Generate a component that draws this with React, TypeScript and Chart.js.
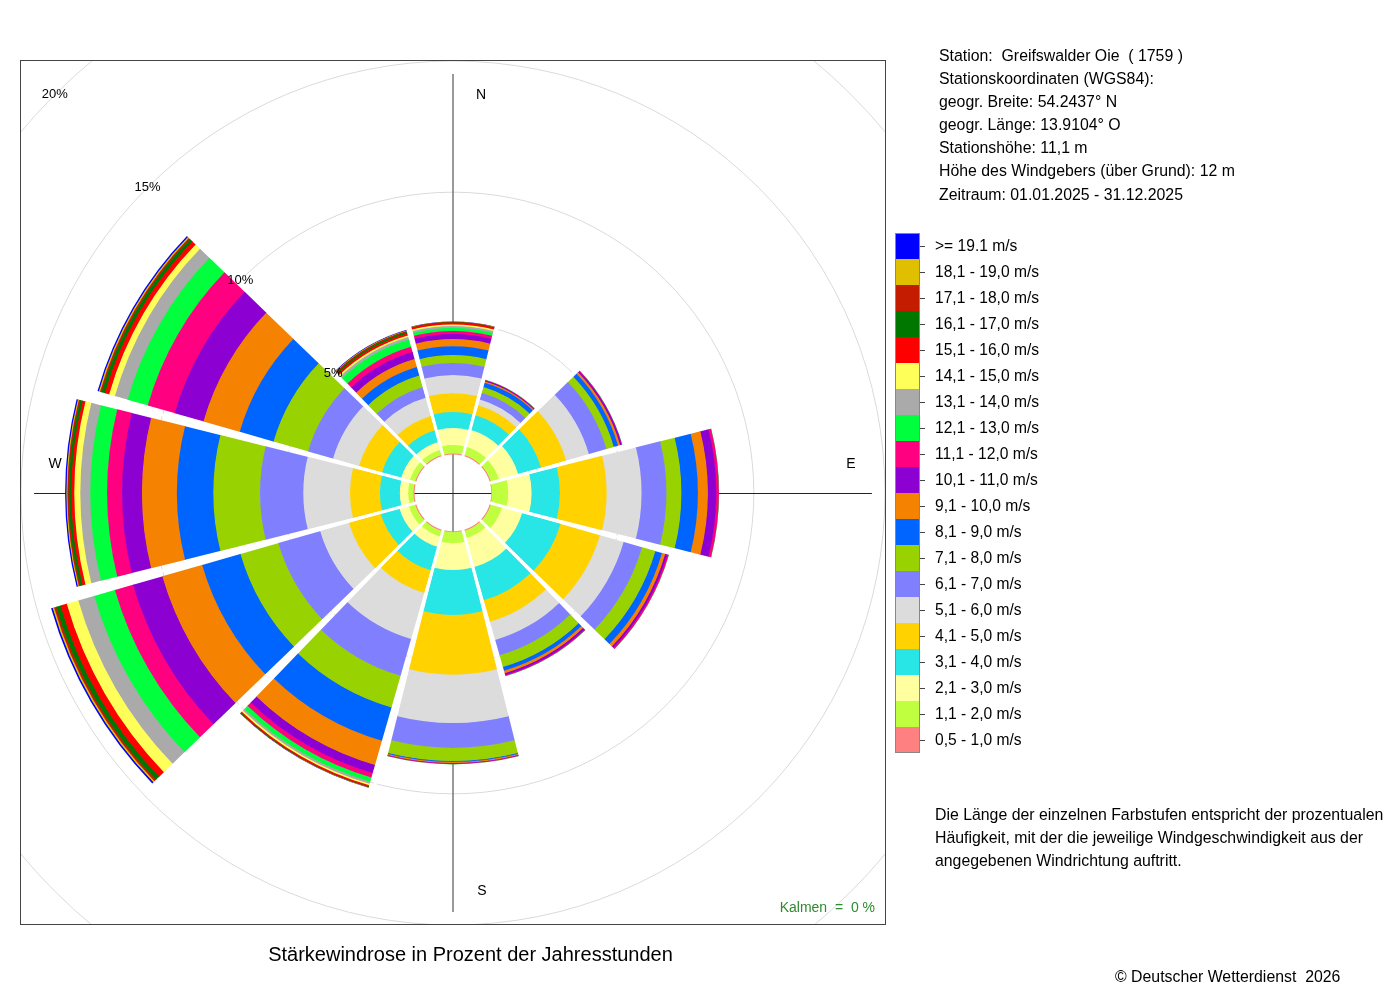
import React, { useEffect, useRef } from 'react';
import { Chart, registerables, PolarAreaController } from 'chart.js';

Chart.register(...registerables);

// 12 direction sectors (30° each), clockwise from north
const directions = ['N', '30°', '60°', 'O', '120°', '150°', 'S', '210°', '240°', 'W', '300°', '330°'];

// speed classes, from lowest to highest
const speedClasses = [
  '0,5 - 1,0 m/s', '1,1 - 2,0 m/s', '2,1 - 3,0 m/s', '3,1 - 4,0 m/s', '4,1 - 5,0 m/s',
  '5,1 - 6,0 m/s', '6,1 - 7,0 m/s', '7,1 - 8,0 m/s', '8,1 - 9,0 m/s', '9,1 - 10,0 m/s',
  '10,1 - 11,0 m/s', '11,1 - 12,0 m/s', '12,1 - 13,0 m/s', '13,1 - 14,0 m/s', '14,1 - 15,0 m/s',
  '15,1 - 16,0 m/s', '16,1 - 17,0 m/s', '17,1 - 18,0 m/s', '18,1 - 19,0 m/s', '>= 19.1 m/s',
];

const classColors = [
  '#ff8080', '#c0ff40', '#ffffa0', '#28e6e6', '#ffd200',
  '#dcdcdc', '#8080ff', '#98d200', '#0064ff', '#f58200',
  '#8c00d2', '#ff0080', '#00ff3c', '#aaaaaa', '#ffff5a',
  '#ff0000', '#007800', '#c41c00', '#e0be00', '#0000ff',
];

// percentage of annual hours per direction (N, 30°, 60°, O, 120°, 150°, S, 210°, 240°, W, 300°, 330°)
const speed05_10 = [0.04, 0.04, 0.04, 0.02, 0.04, 0.04, 0.03, 0.04, 0.04, 0.04, 0.04, 0.04];
const speed11_20 = [0.32, 0.33, 0.32, 0.62, 0.44, 0.29, 0.42, 0.23, 0.25, 0.20, 0.21, 0.21];
const speed21_30 = [0.65, 0.66, 0.76, 0.89, 0.80, 1.14, 1.02, 0.40, 0.37, 0.32, 0.34, 0.31];
const speed31_40 = [0.61, 0.59, 0.91, 1.08, 1.52, 1.32, 1.71, 0.93, 0.74, 0.76, 0.76, 0.46];
const speed41_50 = [0.72, 0.39, 0.99, 1.78, 1.56, 0.85, 2.28, 0.90, 1.26, 1.14, 0.91, 0.57];
const speed51_60 = [0.69, 0.23, 0.90, 1.33, 0.94, 0.72, 1.84, 1.82, 1.14, 1.78, 1.03, 0.72];
const speed61_70 = [0.46, 0.27, 0.70, 0.95, 0.73, 0.61, 0.95, 1.46, 1.66, 1.65, 0.99, 0.42];
const speed71_80 = [0.30, 0.23, 0.29, 0.57, 0.53, 0.46, 0.50, 1.26, 1.50, 1.78, 1.37, 0.46];
const speed81_90 = [0.34, 0.17, 0.17, 0.63, 0.26, 0.15, 0.04, 1.32, 1.52, 1.39, 1.34, 0.34];
const speed91_100 = [0.27, 0.05, 0.08, 0.38, 0.13, 0.10, 0.04, 0.96, 1.58, 1.33, 1.44, 0.32];
const speed101_110 = [0.19, 0.03, 0.06, 0.32, 0.08, 0.07, 0.02, 0.32, 1.16, 0.76, 1.14, 0.27];
const speed111_120 = [0.12, 0.02, 0.02, 0.10, 0.06, 0.04, 0.02, 0.17, 0.72, 0.57, 1.07, 0.21];
const speed121_130 = [0.11, 0.01, 0.01, 0.01, 0.01, 0.01, 0.01, 0.17, 0.82, 0.64, 0.80, 0.29];
const speed131_140 = [0.08, 0, 0, 0, 0, 0, 0, 0.08, 0.63, 0.38, 0.50, 0.10];
const speed141_150 = [0.06, 0, 0, 0, 0, 0, 0, 0.06, 0.46, 0.23, 0.23, 0.06];
const speed151_160 = [0.07, 0, 0, 0, 0, 0, 0, 0.05, 0.25, 0.11, 0.17, 0.08];
const speed161_170 = [0.01, 0, 0, 0, 0, 0, 0, 0.02, 0.17, 0.10, 0.13, 0.06];
const speed171_180 = [0.01, 0, 0, 0, 0, 0, 0, 0.01, 0.08, 0.05, 0.06, 0.04];
const speed181_190 = [0.01, 0, 0, 0, 0, 0, 0, 0.01, 0.06, 0.04, 0.05, 0.02];
const speed191plus = [0.01, 0, 0, 0, 0, 0, 0, 0.01, 0.06, 0.05, 0.05, 0.02];

const classValues = [
  speed05_10, speed11_20, speed21_30, speed31_40, speed41_50, speed51_60, speed61_70,
  speed71_80, speed81_90, speed91_100, speed101_110, speed111_120, speed121_130,
  speed131_140, speed141_150, speed151_160, speed161_170, speed171_180, speed181_190, speed191plus,
];

const gridPercents = [5, 10, 15, 20];
const calmPercent = 0;

const infoLines = [
  'Station:  Greifswalder Oie  ( 1759 )',
  'Stationskoordinaten (WGS84):',
  'geogr. Breite: 54.2437° N',
  'geogr. Länge: 13.9104° O',
  'Stationshöhe: 11,1 m',
  'Höhe des Windgebers (über Grund): 12 m',
  'Zeitraum: 01.01.2025 - 31.12.2025',
];

const noteLines = [
  'Die Länge der einzelnen Farbstufen entspricht der prozentualen',
  'Häufigkeit, mit der die jeweilige Windgeschwindigkeit aus der',
  'angegebenen Windrichtung auftritt.',
];

const chartTitle = 'Stärkewindrose in Prozent der Jahresstunden';
const copyright = '© Deutscher Wetterdienst  2026';

const FONT = '"Liberation Sans", Arial, Helvetica, sans-serif';
const SECTOR_GAP_DEG = 2;
const SECTOR_GAP_PX = 3;

// Polar area controller whose arcs are stacked rings (inner radius = base value)
class StackedPolarController extends (PolarAreaController as any) {
  static id = 'stackedPolar';
  updateElement(element: any, index: number, properties: any, mode: any) {
    if (properties && typeof properties.startAngle === 'number') {
      const ds: any = (this as any).getDataset();
      const scale: any = (this as any)._cachedMeta.rScale;
      const base = ds.base ? ds.base[index] : 0;
      const inner = scale.getDistanceFromCenterForValue(base);
      properties.innerRadius = Math.max(0, inner - (ds.overlap || 0));
      const half = ((ds.gapAngle || 0) * Math.PI) / 360;
      properties.startAngle += half;
      properties.endAngle -= half;
    }
    super.updateElement(element, index, properties, mode);
  }
}
Chart.register(StackedPolarController as any);

const totals = directions.map((_, i) => classValues.reduce((acc, arr) => acc + arr[i], 0));

const decorPlugin = {
  id: 'roseDecor',
  beforeDatasetsDraw(chart: any) {
    const s = chart.scales.r;
    const { ctx, chartArea: a } = chart;
    ctx.save();
    ctx.beginPath();
    ctx.rect(a.left, a.top - 1, a.right - a.left, a.bottom - a.top);
    ctx.clip();
    ctx.strokeStyle = '#dadada';
    ctx.lineWidth = 1;
    gridPercents.forEach((p) => {
      ctx.beginPath();
      ctx.arc(s.xCenter, s.yCenter, s.getDistanceFromCenterForValue(p), 0, Math.PI * 2);
      ctx.stroke();
    });
    const L = s.getDistanceFromCenterForValue(14.5);
    ctx.strokeStyle = '#777';
    ctx.lineWidth = 1.5;
    ctx.beginPath();
    ctx.moveTo(s.xCenter, s.yCenter - L);
    ctx.lineTo(s.xCenter, s.yCenter + L);
    ctx.stroke();
    ctx.strokeStyle = '#222';
    ctx.lineWidth = 1;
    ctx.beginPath();
    ctx.moveTo(s.xCenter - L, s.yCenter + 0.5);
    ctx.lineTo(s.xCenter + L, s.yCenter + 0.5);
    ctx.stroke();
    ctx.restore();
  },
  afterDatasetsDraw(chart: any) {
    // white separators between the direction sectors
    const s = chart.scales.r;
    const { ctx } = chart;
    const n = directions.length;
    const step = (Math.PI * 2) / n;
    const start = (s.options.startAngle * Math.PI) / 180 - Math.PI / 2;
    ctx.save();
    ctx.strokeStyle = '#fff';
    ctx.lineWidth = SECTOR_GAP_PX;
    for (let i = 0; i < n; i++) {
      const ang = start + (i + 1) * step;
      const r0 = s.getDistanceFromCenterForValue(0) - 1;
      const r1 = s.getDistanceFromCenterForValue(Math.max(totals[i], totals[(i + 1) % n])) + 2;
      ctx.beginPath();
      ctx.moveTo(s.xCenter + r0 * Math.cos(ang), s.yCenter + r0 * Math.sin(ang));
      ctx.lineTo(s.xCenter + r1 * Math.cos(ang), s.yCenter + r1 * Math.sin(ang));
      ctx.stroke();
    }
    ctx.restore();
  },
  afterDraw(chart: any) {
    const s = chart.scales.r;
    const { ctx, chartArea: a } = chart;
    ctx.save();
    // frame
    ctx.strokeStyle = '#444';
    ctx.lineWidth = 1;
    ctx.strokeRect(a.left + 0.5, a.top - 0.5, a.right - a.left - 1, a.bottom - a.top - 1);
    // percent labels along the NW diagonal
    ctx.fillStyle = '#000';
    ctx.font = '13px ' + FONT;
    ctx.textAlign = 'center';
    ctx.textBaseline = 'middle';
    gridPercents.forEach((p) => {
      const r = s.getDistanceFromCenterForValue(p);
      ctx.fillText(p + '%', s.xCenter - r * Math.SQRT1_2, s.yCenter - r * Math.SQRT1_2);
    });
    // compass labels
    const lr = s.getDistanceFromCenterForValue(13.7);
    ctx.font = '14px ' + FONT;
    ctx.fillText('N', s.xCenter + 28, s.yCenter - lr);
    ctx.fillText('S', s.xCenter + 29, s.yCenter + lr);
    ctx.fillText('E', s.xCenter + lr, s.yCenter - 29);
    ctx.fillText('W', s.xCenter - lr, s.yCenter - 29);
    // calms
    ctx.fillStyle = '#2e8b2e';
    ctx.textAlign = 'right';
    ctx.fillText('Kalmen  =  ' + calmPercent + ' %', a.right - 11, a.bottom - 18);
    ctx.restore();
  },
};

export default function App() {
  const ref = useRef<HTMLCanvasElement | null>(null);

  useEffect(() => {
    if (!ref.current) return;
    const datasets: any[] = [];
    let running = directions.map(() => 0);
    classValues.forEach((vals, ci) => {
      const base = running.slice();
      running = running.map((r, i) => r + vals[i]);
      const color = classColors[ci];
      datasets.push({
        label: speedClasses[ci],
        data: running.slice(),
        base,
        gapAngle: SECTOR_GAP_DEG,
        overlap: ci === 0 ? 0 : 0.6,
        borderWidth: 0,
        backgroundColor: (c: any) => (vals[c.dataIndex] > 0 ? color : 'rgba(0,0,0,0)'),
      });
    });

    const chart = new Chart(ref.current, {
      type: 'stackedPolar' as any,
      data: { labels: directions, datasets },
      options: {
        responsive: false,
        animation: false,
        layout: { padding: { left: 20, top: 61, right: 514, bottom: 74 } },
        plugins: {
          legend: { display: false },
          tooltip: { enabled: false },
          title: { display: false },
        },
        scales: {
          r: {
            type: 'radialLinear',
            min: -1.466,
            max: 15,
            startAngle: -15,
            ticks: { display: false },
            grid: { display: false },
            angleLines: { display: false },
            pointLabels: { display: false },
          },
        },
      } as any,
      plugins: [decorPlugin],
    });
    return () => chart.destroy();
  }, []);

  const legendTop = 233;
  const legendRow = 26;
  const legendOrder = speedClasses.map((_, i) => speedClasses.length - 1 - i);

  return (
    <div
      style={{
        position: 'fixed', left: 0, top: 0, width: 1400, height: 1000,
        background: '#fff', fontFamily: FONT, color: '#000', overflow: 'hidden',
      }}
    >
      <canvas
        ref={ref}
        width={1400}
        height={1000}
        style={{ position: 'absolute', left: 0, top: 0, width: 1400, height: 1000 }}
      />
      {infoLines.map((t, i) => (
        <div
          key={'info' + i}
          style={{ position: 'absolute', left: 939, top: 43.5 + i * 23.17, fontSize: 15.85, lineHeight: '23px', whiteSpace: 'pre' }}
        >
          {t}
        </div>
      ))}
      <div
        style={{
          position: 'absolute', left: 895, top: legendTop, width: 25,
          height: legendRow * speedClasses.length, border: '1px solid #888', boxSizing: 'border-box',
        }}
      />
      {legendOrder.map((ci, row) => (
        <React.Fragment key={'lg' + ci}>
          <div
            style={{
              position: 'absolute', left: 896, top: legendTop + row * legendRow + (row === 0 ? 1 : 0),
              width: 23, height: legendRow - (row === 0 ? 1 : 0) - (row === speedClasses.length - 1 ? 1 : 0),
              background: classColors[ci],
            }}
          />
          <div
            style={{
              position: 'absolute', left: 920, top: legendTop + row * legendRow + legendRow / 2 - 0.5,
              width: 5, height: 1, background: '#444',
            }}
          />
          <div
            style={{
              position: 'absolute', left: 935, top: legendTop + row * legendRow, height: legendRow,
              lineHeight: legendRow + 'px', fontSize: 15.6, whiteSpace: 'pre',
            }}
          >
            {speedClasses[ci]}
          </div>
        </React.Fragment>
      ))}
      {noteLines.map((t, i) => (
        <div
          key={'note' + i}
          style={{ position: 'absolute', left: 935, top: 802.5 + i * 23, fontSize: 15.85, lineHeight: '23px', whiteSpace: 'pre' }}
        >
          {t}
        </div>
      ))}
      <div
        style={{ position: 'absolute', left: 0, width: 941, top: 940, textAlign: 'center', fontSize: 20, lineHeight: '28px' }}
      >
        {chartTitle}
      </div>
      <div style={{ position: 'absolute', left: 1115, top: 964.5, fontSize: 15.85, lineHeight: '23px', whiteSpace: 'pre' }}>
        {copyright}
      </div>
    </div>
  );
}
